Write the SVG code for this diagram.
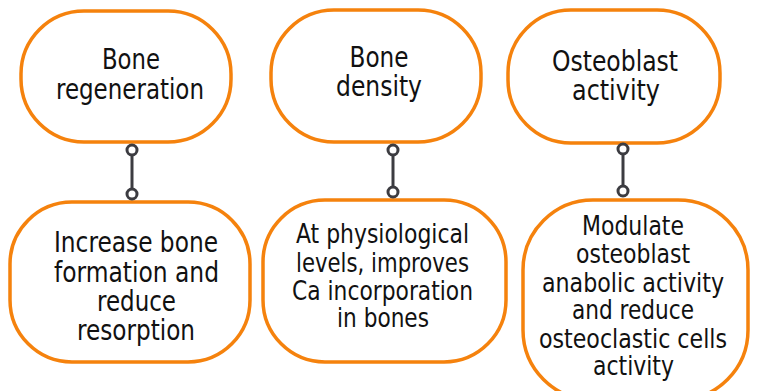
<svg xmlns="http://www.w3.org/2000/svg" width="758" height="391" viewBox="0 0 758 391">
<style>
.box{fill:#fff;stroke:#F5820D;stroke-width:3.5}
.t{font-family:"DejaVu Sans Condensed","Liberation Sans Narrow",sans-serif;font-size:29px;fill:#111;text-anchor:middle}
.s{font-size:27px}
.c line{stroke:#3C3C41;stroke-width:3}
.c circle{fill:#fff;stroke:#3C3C41;stroke-width:3}
</style>
<rect width="758" height="391" fill="#fff"/>
<g id="n1">
<rect class="box" x="21" y="11" width="210" height="131" rx="63"/>
<text class="t" x="131" y="69" textLength="58" lengthAdjust="spacingAndGlyphs">Bone</text>
<text class="t" x="130" y="99" textLength="148" lengthAdjust="spacingAndGlyphs">regeneration</text>
</g>
<g id="n2">
<rect class="box" x="271" y="10" width="210" height="132" rx="63"/>
<text class="t" x="379" y="67" textLength="59" lengthAdjust="spacingAndGlyphs">Bone</text>
<text class="t" x="379" y="96" textLength="86" lengthAdjust="spacingAndGlyphs">density</text>
</g>
<g id="n3">
<rect class="box" x="508" y="10" width="212" height="133" rx="63"/>
<text class="t" x="615" y="71" textLength="126" lengthAdjust="spacingAndGlyphs">Osteoblast</text>
<text class="t" x="616" y="100" textLength="88" lengthAdjust="spacingAndGlyphs">activity</text>
</g>
<g id="n4">
<rect class="box" x="10" y="202" width="240" height="160" rx="62"/>
<text class="t" x="136" y="252" textLength="164" lengthAdjust="spacingAndGlyphs">Increase bone</text>
<text class="t" x="136.5" y="282" textLength="165" lengthAdjust="spacingAndGlyphs">formation and</text>
<text class="t" x="136.5" y="311" textLength="79" lengthAdjust="spacingAndGlyphs">reduce</text>
<text class="t" x="136" y="340" textLength="118" lengthAdjust="spacingAndGlyphs">resorption</text>
</g>
<g id="n5">
<rect class="box" x="263" y="200" width="243" height="162" rx="62"/>
<text class="t s" x="382.5" y="243" textLength="173" lengthAdjust="spacingAndGlyphs">At physiological</text>
<text class="t s" x="382.5" y="272" textLength="173" lengthAdjust="spacingAndGlyphs">levels, improves</text>
<text class="t s" x="382.5" y="300" textLength="181" lengthAdjust="spacingAndGlyphs">Ca incorporation</text>
<text class="t s" x="383" y="327" textLength="92" lengthAdjust="spacingAndGlyphs">in bones</text>
</g>
<g id="n6">
<rect class="box" x="523" y="200" width="225" height="200" rx="70"/>
<text class="t s" x="633" y="235" textLength="102" lengthAdjust="spacingAndGlyphs">Modulate</text>
<text class="t s" x="633" y="263" textLength="114" lengthAdjust="spacingAndGlyphs">osteoblast</text>
<text class="t s" x="633" y="292" textLength="182" lengthAdjust="spacingAndGlyphs">anabolic activity</text>
<text class="t s" x="633" y="319" textLength="122" lengthAdjust="spacingAndGlyphs">and reduce</text>
<text class="t s" x="633" y="348" textLength="188" lengthAdjust="spacingAndGlyphs">osteoclastic cells</text>
<text class="t s" x="633.5" y="375" textLength="81" lengthAdjust="spacingAndGlyphs">activity</text>
</g>
<g id="connectors" class="c">
<line x1="132" y1="150" x2="132" y2="194"/>
<circle cx="132" cy="150" r="5"/>
<circle cx="132" cy="194" r="5"/>
<line x1="393" y1="150" x2="393" y2="192"/>
<circle cx="393" cy="150" r="5"/>
<circle cx="393" cy="192" r="5"/>
<line x1="623" y1="149" x2="623" y2="191"/>
<circle cx="623" cy="149" r="5"/>
<circle cx="623" cy="191" r="5"/>
</g>
</svg>
